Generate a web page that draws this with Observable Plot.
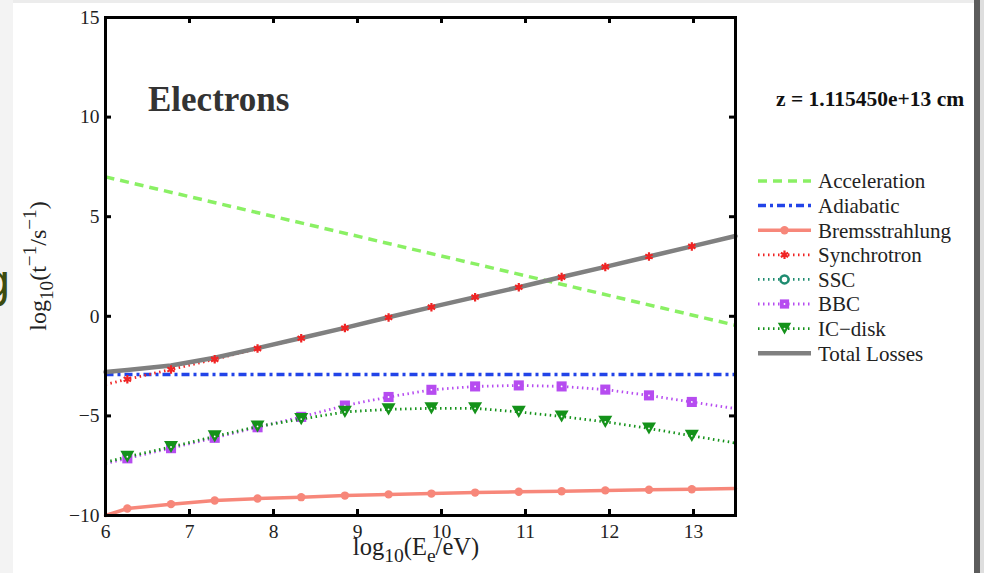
<!DOCTYPE html>
<html><head><meta charset="utf-8">
<script src="https://cdn.jsdelivr.net/npm/d3@7"></script>
<script src="https://cdn.jsdelivr.net/npm/@observablehq/plot@0.6"></script>
<style>
html,body{margin:0;padding:0;background:#fff;}
#wrap{position:relative;width:984px;height:573px;overflow:hidden;background:#fff;}
#wrap svg{position:absolute;left:0;top:0;}
.strip{position:absolute;}
</style></head><body><div id="wrap"></div>
<script>
// ---- data ----
const energy = [6.00, 6.26, 6.78, 7.30, 7.81, 8.33, 8.85, 9.37, 9.88, 10.40, 10.92, 11.43, 11.95, 12.47, 12.98, 13.50];
const accelerationE = [6.0, 13.5];
const acceleration = [7.0, -0.45];
const adiabaticE = [6.0, 13.5];
const adiabatic = [-2.92, -2.92];
const bremsstrahlung = [-10.0, -9.65, -9.43, -9.25, -9.15, -9.08, -9.0, -8.94, -8.9, -8.85, -8.81, -8.78, -8.74, -8.71, -8.68, -8.64];
const synchrotron = [-3.42, -3.16, -2.67, -2.16, -1.62, -1.1, -0.59, -0.06, 0.46, 0.96, 1.46, 1.97, 2.48, 3.0, 3.51, 4.02];
const bbc = [-7.4, -7.13, -6.62, -6.1, -5.57, -5.05, -4.48, -4.05, -3.69, -3.52, -3.47, -3.52, -3.68, -3.97, -4.3, -4.63];
const icDisk = [-7.33, -7.05, -6.56, -6.03, -5.53, -5.16, -4.8, -4.67, -4.62, -4.62, -4.8, -5.03, -5.3, -5.63, -6.0, -6.36];
const totalLosses = [-2.8, -2.7, -2.47, -2.08, -1.6, -1.09, -0.58, -0.05, 0.46, 0.96, 1.46, 1.97, 2.48, 3.0, 3.51, 4.03];
const xTicks = [6, 7, 8, 9, 10, 11, 12, 13];
const yTicks = [-10, -5, 0, 5, 10, 15];
const legendLabels = ["Acceleration", "Adiabatic", "Bremsstrahlung", "Synchrotron", "SSC", "BBC", "IC\u2212disk", "Total Losses"];
const titleText = "Electrons";
const positionText = "z = 1.115450e+13 cm";

// ---- styles ----
const C = {acc:"#8af064", adi:"#2244e8", brem:"#f7877a", syn:"#f02424", ssc:"#1e8c70", bbc:"#b64cf0", ic:"#14921a", tot:"#808080"};
const DOT = "1.5,3.5";
const DW = 2.8;
const triangleDown = {draw(ctx, size){const a=Math.sqrt(size*4/Math.sqrt(3)); const h=a*Math.sqrt(3)/2; ctx.moveTo(-a/2,-h/2); ctx.lineTo(a/2,-h/2); ctx.lineTo(0,h/2); ctx.closePath();}};

const rows = energy.map((e,i)=>({e, brem:bremsstrahlung[i], syn:synchrotron[i], bbc:bbc[i], ic:icDisk[i], tot:totalLosses[i], m: i>0 && i<energy.length-1}));
const accRows = accelerationE.map((e,i)=>({e, v:acceleration[i]}));
const adiRows = adiabaticE.map((e,i)=>({e, v:adiabatic[i]}));
const mk = rows.filter(d=>d.m);

const W=984, H=573, mL=105, mR=249, mT=17, mB=58;
const fw = W-mL-mR, fh = H-mT-mB, TL = 6;
const fmt = d => d<0 ? "\u2212"+(-d) : String(d);

const chart = Plot.plot({
  width:W, height:H, marginLeft:mL, marginRight:mR, marginTop:mT, marginBottom:mB,
  style:{fontFamily:"Liberation Serif", fontSize:"19.5px", color:"#222", background:"transparent"},
  x:{domain:[6,13.5]},
  y:{domain:[-10,15]},
  marks:[
    Plot.axisX(xTicks, {tickSize:0, tickPadding:9, tickFormat:fmt, label:null, fontSize:19.5, fill:"#222"}),
    Plot.axisY(yTicks, {tickSize:0, tickPadding:6, tickFormat:fmt, label:null, fontSize:19.5, fill:"#222"}),
    Plot.line(accRows, {x:"e", y:"v", stroke:C.acc, strokeWidth:3.5, strokeDasharray:"9,6", strokeLinecap:"butt"}),
    Plot.line(adiRows, {x:"e", y:"v", stroke:C.adi, strokeWidth:3.5, strokeDasharray:"8,4,3,4", strokeLinecap:"butt"}),
    Plot.line(rows, {x:"e", y:"brem", stroke:C.brem, strokeWidth:3.5}),
    Plot.dot(mk, {x:"e", y:"brem", r:4.2, fill:C.brem}),
    Plot.line(rows, {x:"e", y:"syn", stroke:C.syn, strokeWidth:DW, strokeDasharray:DOT, strokeLinecap:"butt"}),
    Plot.line(rows, {x:"e", y:"bbc", stroke:C.bbc, strokeWidth:DW, strokeDasharray:DOT, strokeLinecap:"butt"}),
    Plot.dot(mk, {x:"e", y:"bbc", r:5.7, symbol:"square", fill:C.bbc}),
    Plot.dot(mk, {x:"e", y:"bbc", r:0.9, fill:"white"}),
    Plot.line(rows, {x:"e", y:"ic", stroke:C.ic, strokeWidth:DW, strokeDasharray:DOT, strokeLinecap:"butt"}),
    Plot.dot(mk, {x:"e", y:"ic", r:5.2, symbol:triangleDown, fill:C.ic}),
    Plot.dot(mk, {x:"e", y:"ic", r:0.9, fill:"white"}),
    Plot.line(rows, {x:"e", y:"tot", stroke:C.tot, strokeWidth:4.5}),
    Plot.dot(mk, {x:"e", y:"syn", r:4, symbol:"asterisk", stroke:C.syn, strokeWidth:2.2}),
    Plot.tickX(xTicks.slice(1), {x:d=>d, insetTop:fh-TL, stroke:"black", strokeWidth:3}),
    Plot.tickX(xTicks.slice(1), {x:d=>d, insetBottom:fh-TL, stroke:"black", strokeWidth:3}),
    Plot.tickY(yTicks.slice(1,-1), {y:d=>d, insetRight:fw-TL, stroke:"black", strokeWidth:3}),
    Plot.tickY(yTicks.slice(1,-1), {y:d=>d, insetLeft:fw-TL, stroke:"black", strokeWidth:3}),
    Plot.frame({stroke:"black", strokeWidth:3})
  ]
});
const wrap = document.getElementById("wrap");
wrap.appendChild(chart);

const svg = d3.select(chart);
const serif = "Liberation Serif";
// annotations
svg.append("text").attr("x",148).attr("y",111).attr("text-anchor","start").attr("font-family",serif).attr("font-weight","bold")
  .attr("font-size",35).attr("fill","#333").text(titleText);
svg.append("text").attr("x",776).attr("y",106).attr("text-anchor","start").attr("font-family",serif).attr("font-weight","bold")
  .attr("font-size",21.5).attr("fill","#111").text(positionText);

function label(g, parts, size){
  const t = g.append("text").attr("font-family",serif).attr("font-size",size).attr("fill","#222").attr("text-anchor","middle");
  let cur = 0;
  parts.forEach(([s, kind])=>{
    const target = kind==="sub" ? size*0.3 : kind==="sup" ? -size*0.42 : 0;
    const ts = t.append("tspan").text(s).attr("dy", target-cur);
    if(kind) ts.attr("font-size", size*0.8);
    cur = target;
  });
  return t;
}
const xl = svg.append("g").attr("transform","translate(416,555)");
label(xl, [["log"],["10","sub"],["(E"],["e","sub"],["/eV)"]], 24.5);
const yl = svg.append("g").attr("transform","translate(46,266) rotate(-90)");
label(yl, [["log"],["10","sub"],["(t"],["\u22121","sup"],["/s"],["\u22121","sup"],[")"]], 24);

// legend
const lg = svg.append("g");
const ly0 = 181, ldy = 24.6, lx0 = 758, lx1 = 811, lxm = (lx0+lx1)/2;
const legendStyles = [
  {stroke:C.acc, w:3.5, dash:"9,6"},
  {stroke:C.adi, w:3.5, dash:"8,4,3,4"},
  {stroke:C.brem, w:3.5, dash:null, sym:d3.symbolCircle, r:4.2, fill:C.brem},
  {stroke:C.syn, w:DW, dash:DOT, sym:d3.symbolAsterisk, r:4, fill:"none", sstroke:C.syn, sw:2.2},
  {stroke:C.ssc, w:DW, dash:DOT, sym:d3.symbolCircle, r:4, fill:"white", sstroke:C.ssc, sw:2.5},
  {stroke:C.bbc, w:DW, dash:DOT, sym:d3.symbolSquare, r:5.2, fill:C.bbc, inner:true},
  {stroke:C.ic, w:DW, dash:DOT, sym:triangleDown, r:5, fill:C.ic, inner:true},
  {stroke:C.tot, w:4.5, dash:null}
];
legendLabels.forEach((name,i)=>{
  const s = legendStyles[i], y = ly0 + i*ldy;
  lg.append("line").attr("x1",lx0).attr("x2",lx1).attr("y1",y).attr("y2",y)
    .attr("stroke",s.stroke).attr("stroke-width",s.w).attr("stroke-dasharray",s.dash);
  if(s.sym){
    lg.append("path").attr("transform",`translate(${lxm},${y})`)
      .attr("d", d3.symbol(s.sym, Math.PI*s.r*s.r)())
      .attr("fill", s.fill).attr("stroke", s.sstroke||"none").attr("stroke-width", s.sw||0);
    if(s.inner) lg.append("circle").attr("cx",lxm).attr("cy",y).attr("r",0.9).attr("fill","white");
  }
  lg.append("text").attr("x",818).attr("y",y).attr("dy","0.35em").attr("text-anchor","start").attr("font-family",serif)
    .attr("font-size",21).attr("fill","#222").text(name);
});

// page edges of the original screenshot
function strip(css){const d=document.createElement("div");d.className="strip";Object.assign(d.style,css);wrap.appendChild(d);return d;}
strip({left:"0px",top:"0px",width:"984px",height:"3px",background:"#ececec"});
strip({left:"0px",top:"0px",width:"13px",height:"573px",background:"#f3f3f3"});
strip({left:"974px",top:"0px",width:"6px",height:"573px",background:"#5c5c5c"});
strip({left:"980px",top:"0px",width:"4px",height:"573px",background:"#dedede"});
const g = strip({left:"0px",top:"0px",width:"13px",height:"573px",overflow:"hidden"});
g.innerHTML = '<svg width="13" height="573"><text x="11" y="297" text-anchor="end" font-family="DejaVu Sans" font-size="46" fill="#3c4c10">g</text></svg>';
</script></body></html>
